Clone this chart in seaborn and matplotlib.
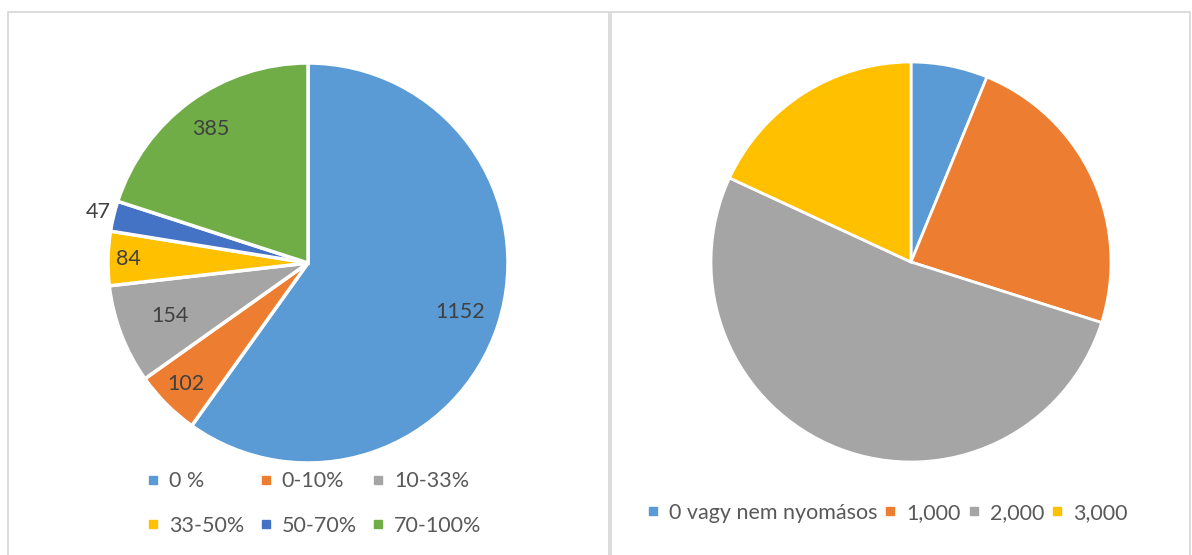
import matplotlib
matplotlib.use("Agg")
import matplotlib.pyplot as plt
import seaborn as sns
import numpy as np
from matplotlib.lines import Line2D
from matplotlib.patches import Rectangle

# left pie: share of pressure categories
left_labels = ["0 %", "0-10%", "10-33%", "33-50%", "50-70%", "70-100%"]
left_values = [1152, 102, 154, 84, 47, 385]
left_colors = ["#5B9BD5", "#ED7D31", "#A5A5A5", "#FFC000", "#4472C4", "#70AD47"]

# right pie: no data labels in the original, shares read off the angles
right_labels = ["0 vagy nem nyomásos", "1,000", "2,000", "3,000"]
right_values = [6.2, 23.7, 52.0, 18.1]
right_colors = ["#5B9BD5", "#ED7D31", "#A5A5A5", "#FFC000"]

sns.set_theme(style="white")
plt.rcParams['font.family'] = ['Lato', 'DejaVu Sans']

W, H = 1192, 555
fig = plt.figure(figsize=(W / 100, H / 100), dpi=100)
fig.patch.set_facecolor("white")

# panel frames (like the Excel chart areas)
for x0, x1 in [(8, 609), (611, 1190)]:
    fig.patches.append(Rectangle((x0 / W, -0.1), (x1 - x0) / W, 1.1 - 12 / H,
                                 transform=fig.transFigure, fill=False,
                                 edgecolor="#D9D9D9", linewidth=1.3))


def pie_axes(cx, cy, r):
    return fig.add_axes([(cx - r) / W, (H - cy - r) / H, 2 * r / W, 2 * r / H])


def draw_pie(ax, values, colors, lw):
    wedges, _ = ax.pie(values, colors=colors, startangle=90, counterclock=False,
                       wedgeprops=dict(edgecolor="white", linewidth=lw))
    ax.set_xlim(-1, 1)
    ax.set_ylim(-1, 1)
    ax.set_aspect("equal")
    ax.axis("off")
    return wedges


ax1 = pie_axes(308, 263, 200)
wedges = draw_pie(ax1, left_values, left_colors, 2.5)
label_r = [0.80, 0.86, 0.74, 0.90, 1.08, 0.83]
for w, v, r in zip(wedges, left_values, label_r):
    a = np.deg2rad((w.theta1 + w.theta2) / 2)
    ax1.text(r * np.cos(a), r * np.sin(a), str(v), ha="center", va="center",
             fontsize=15.5, color="#404040", clip_on=False)

ax2 = pie_axes(911, 262, 200)
draw_pie(ax2, right_values, right_colors, 2)


def square(c):
    return Line2D([], [], marker="s", linestyle="none", markersize=6,
                  markerfacecolor=c, markeredgecolor=c)


# legend is filled column by column, so interleave to get the row order
order = [0, 3, 1, 4, 2, 5]
fig.legend([square(left_colors[i]) for i in order],
           [left_labels[i] for i in order], ncol=3,
           loc="center", bbox_to_anchor=(314 / W, 1 - 503.5 / H), frameon=False,
           fontsize=15.5, labelcolor="#595959", handlelength=0.6,
           handletextpad=0.45, columnspacing=0.68, labelspacing=1.14)

fig.legend([square(c) for c in right_colors], right_labels, ncol=4,
           loc="center", bbox_to_anchor=(887 / W, 1 - 513 / H), frameon=False,
           fontsize=15.5, labelcolor="#595959", handlelength=0.6,
           handletextpad=0.45, columnspacing=0.3)

fig.savefig("out.png", dpi=100)
